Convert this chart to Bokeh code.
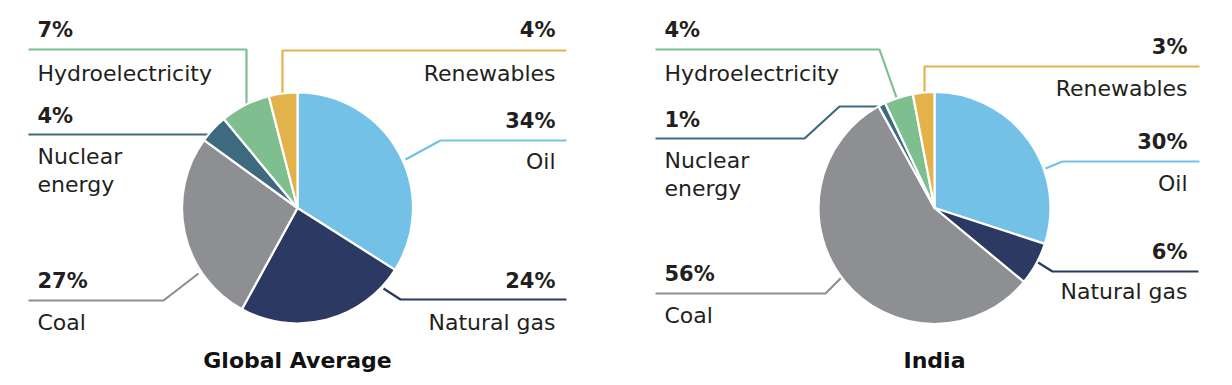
import numpy as np
from bokeh.plotting import figure
from bokeh.models import Range1d
from bokeh.core.properties import value
from bokeh.embed import file_html
from bokeh.resources import INLINE

# ---------------- data ----------------
categories = ["Oil", "Natural gas", "Coal", "Nuclear energy", "Hydroelectricity", "Renewables"]
global_share = [34, 24, 27, 4, 7, 4]
india_share = [30, 6, 56, 1, 4, 3]
chart_titles = ["Global Average", "India"]
colors = ["#74C1E8", "#2B3963", "#8D8F92", "#3E6A80", "#7FBF8F", "#E3B24B"]

# ---------------- layout (image pixel coords) ----------------
W, H = 1232, 385
FONT = "DejaVu Sans"
TXT = "#231F20"
TEXT_SHIFT = 7  # baseline correction for text rendering


def X(x):
    return x


def Y(y):
    return H - y


def TY(y):
    return H - (y - TEXT_SHIFT)


charts = [
    dict(values=global_share, title=chart_titles[0], cx=297, cy=207.5, r=115.5,
         lx=37, rx=555,
         labels={
             "Oil": ("right", 127, [168], [(566, 140), (440, 140), (405, 159)]),
             "Natural gas": ("right", 287, [329], [(566, 299), (400, 299), (383, 288)]),
             "Coal": ("left", 287, [329], [(28, 300), (163, 300), (198, 273)]),
             "Nuclear energy": ("left", 122, [163, 191], [(28, 134), (210, 134)]),
             "Hydroelectricity": ("left", 36, [80], [(28, 49), (246, 49), (246, 104)]),
             "Renewables": ("right", 36, [80], [(566, 50), (282, 50), (282, 95)]),
         }),
    dict(values=india_share, title=chart_titles[1], cx=934, cy=207.5, r=116,
         lx=664, rx=1187,
         labels={
             "Oil": ("right", 148, [190], [(1199, 161), (1062, 161), (1045, 168)]),
             "Natural gas": ("right", 258, [298], [(1198, 271), (1052, 271), (1036, 261)]),
             "Coal": ("left", 280, [322], [(655, 293), (825, 293), (845, 273)]),
             "Nuclear energy": ("left", 126, [167, 195], [(655, 138), (804, 138), (839, 106), (878, 106)]),
             "Hydroelectricity": ("left", 36, [80], [(655, 49), (879, 49), (897, 100)]),
             "Renewables": ("right", 53, [95], [(1199, 66), (924, 66), (924, 95)]),
         }),
]

p = figure(width=W, height=H, output_backend="svg", toolbar_location=None,
           x_range=Range1d(0, W), y_range=Range1d(0, H), min_border=0,
           background_fill_color="white", border_fill_color="white")
p.axis.visible = False
p.grid.visible = False
p.outline_line_color = None

for ch in charts:
    vals = np.array(ch["values"], dtype=float)
    frac = vals / vals.sum()
    cum_end = np.cumsum(frac)
    cum_start = cum_end - frac
    # leader lines first, so the pie covers their ends
    for cat, col in zip(categories, colors):
        side, pct_y, lab_ys, path = ch["labels"][cat]
        xs = [X(px) for px, _ in path]
        ys = [Y(py) for _, py in path]
        p.line(xs, ys, line_color=col, line_width=2.2)
    # pie: clockwise from 12 o'clock
    start = np.pi / 2 - 2 * np.pi * cum_end
    end = np.pi / 2 - 2 * np.pi * cum_start
    p.wedge(x=X(ch["cx"]), y=Y(ch["cy"]), radius=ch["r"], start_angle=start,
            end_angle=end, direction="anticlock", fill_color=colors,
            line_color="white", line_width=2.2)
    # labels
    for cat, v in zip(categories, ch["values"]):
        side, pct_y, lab_ys, path = ch["labels"][cat]
        tx = ch["lx"] if side == "left" else ch["rx"]
        align = "left" if side == "left" else "right"
        p.text(x=[X(tx)], y=[TY(pct_y)], text=[f"{v}%"], text_font=value(FONT),
               text_font_style="bold", text_font_size="21px", text_color=TXT,
               text_align=align, text_baseline="alphabetic")
        parts = cat.split(" ") if len(lab_ys) > 1 else [cat]
        for part, ly in zip(parts, lab_ys):
            p.text(x=[X(tx)], y=[TY(ly)], text=[part], text_font=value(FONT),
                   text_font_size="22px", text_color=TXT, text_align=align,
                   text_baseline="alphabetic")
    p.text(x=[X(ch["cx"])], y=[TY(368) + 1.5], text=[ch["title"]], text_font=value(FONT),
           text_font_style="bold", text_font_size="22px", text_color="#111111",
           text_align="center", text_baseline="alphabetic")

open("out.html", "w").write(file_html(p, INLINE))
